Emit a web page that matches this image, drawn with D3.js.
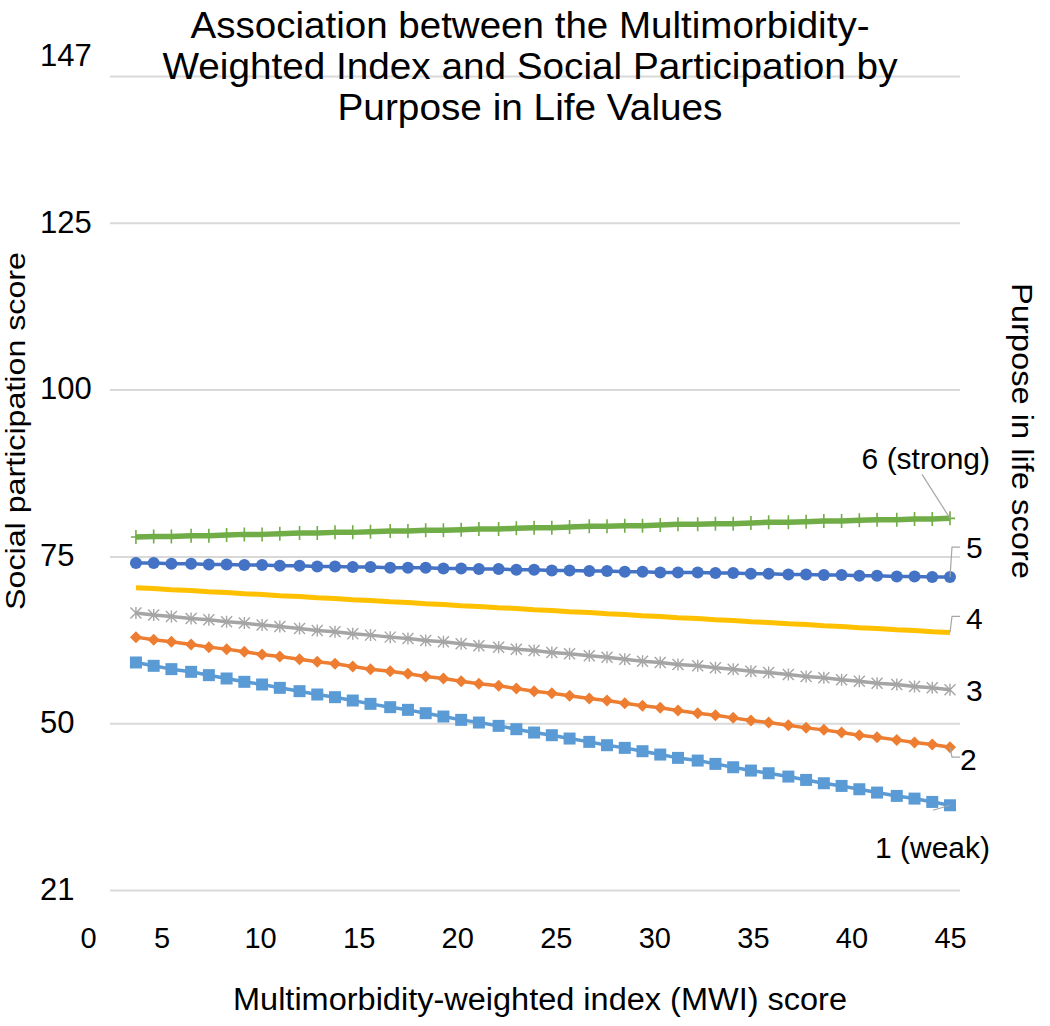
<!DOCTYPE html>
<html lang="en">
<head>
<meta charset="UTF-8">
<title>MWI and Social Participation by Purpose in Life</title>
<script src="https://d3js.org/d3.v7.min.js"></script>
<style>
    body { margin: 0; background: #fff; }
    svg text { font-family: "Liberation Sans", Arial, sans-serif; fill: #000; }
    .grid line { stroke: #d9d9d9; stroke-width: 2; }
    .leader { stroke: #a6a6a6; stroke-width: 1.2; fill: none; }
</style>
</head>
<body>
<svg id="chart" width="1050" height="1026"></svg>
<script>
// MWI score of each plotted point
const mwi = [3.7, 4.6, 5.5, 6.5, 7.4, 8.3, 9.2, 10.1, 11.0, 12.0, 12.9, 13.8, 14.7, 15.6, 16.6, 17.5,
    18.4, 19.3, 20.2, 21.1, 22.1, 23.0, 23.9, 24.8, 25.7, 26.7, 27.6, 28.5, 29.4, 30.3, 31.2, 32.2,
    33.1, 34.0, 34.9, 35.8, 36.8, 37.7, 38.6, 39.5, 40.4, 41.3, 42.3, 43.2, 44.1, 45.0];

// social participation score for each purpose in life value
const pil1 = [59.1, 58.6, 58.1, 57.7, 57.2, 56.7, 56.2, 55.8, 55.3, 54.8, 54.3, 53.9, 53.4, 52.9, 52.4, 52.0,
    51.5, 51.0, 50.5, 50.1, 49.6, 49.1, 48.6, 48.2, 47.7, 47.2, 46.7, 46.3, 45.8, 45.3, 44.8, 44.4,
    43.9, 43.4, 42.9, 42.5, 42.0, 41.5, 41.0, 40.6, 40.1, 39.6, 39.1, 38.7, 38.2, 37.7];
const pil2 = [62.9, 62.5, 62.2, 61.8, 61.4, 61.1, 60.7, 60.3, 60.0, 59.6, 59.2, 58.9, 58.5, 58.1, 57.8, 57.4,
    57.0, 56.7, 56.3, 55.9, 55.6, 55.2, 54.8, 54.5, 54.1, 53.7, 53.4, 53.0, 52.6, 52.3, 51.9, 51.5,
    51.2, 50.8, 50.4, 50.1, 49.7, 49.3, 49.0, 48.6, 48.2, 47.9, 47.5, 47.1, 46.8, 46.4];
const pil3 = [66.5, 66.2, 66.0, 65.7, 65.5, 65.2, 65.0, 64.7, 64.5, 64.2, 63.9, 63.7, 63.4, 63.2, 62.9, 62.7,
    62.4, 62.2, 61.9, 61.6, 61.4, 61.1, 60.9, 60.6, 60.4, 60.1, 59.9, 59.6, 59.3, 59.1, 58.8, 58.6,
    58.3, 58.1, 57.8, 57.6, 57.3, 57.0, 56.8, 56.5, 56.3, 56.0, 55.8, 55.5, 55.3, 55.0];
const pil4 = [70.3, 70.2, 70.0, 69.9, 69.7, 69.6, 69.4, 69.3, 69.1, 69.0, 68.8, 68.7, 68.5, 68.4, 68.2, 68.1,
    67.9, 67.8, 67.6, 67.5, 67.3, 67.2, 67.0, 66.9, 66.7, 66.6, 66.4, 66.3, 66.1, 66.0, 65.8, 65.7,
    65.5, 65.4, 65.2, 65.1, 64.9, 64.8, 64.6, 64.5, 64.3, 64.2, 64.0, 63.9, 63.7, 63.6];
const pil5 = [74.0, 74.0, 73.9, 73.9, 73.8, 73.8, 73.7, 73.7, 73.6, 73.6, 73.5, 73.5, 73.4, 73.4, 73.3, 73.3,
    73.3, 73.2, 73.2, 73.1, 73.1, 73.0, 73.0, 72.9, 72.9, 72.8, 72.8, 72.7, 72.7, 72.6, 72.6, 72.6,
    72.5, 72.5, 72.4, 72.4, 72.3, 72.3, 72.2, 72.2, 72.1, 72.1, 72.0, 72.0, 71.9, 71.9];
const pil6 = [77.9, 78.0, 78.0, 78.1, 78.1, 78.2, 78.3, 78.3, 78.4, 78.5, 78.5, 78.6, 78.6, 78.7, 78.8, 78.8,
    78.9, 78.9, 79.0, 79.1, 79.1, 79.2, 79.3, 79.3, 79.4, 79.5, 79.5, 79.6, 79.6, 79.7, 79.8, 79.8,
    79.9, 79.9, 80.0, 80.1, 80.1, 80.2, 80.3, 80.3, 80.4, 80.5, 80.5, 80.6, 80.6, 80.7];

const seriesNames = ["1 (weak)", "2", "3", "4", "5", "6 (strong)"];
const xTicks = [0, 5, 10, 15, 20, 25, 30, 35, 40, 45];
const yTicks = [25, 50, 75, 100, 125, 147];
const yTickLabels = ["21", "50", "75", "100", "125", "147"];

const colors = ["#5b9bd5", "#ed7d31", "#a5a5a5", "#ffc000", "#4472c4", "#70ad47"];
const markers = ["square", "diamond", "cross", "none", "circle", "plus"];
const widths = [3.5, 3.5, 3.5, 5, 3.5, 5.5];

const svg = d3.select("#chart");

const x = d3.scaleLinear().domain([0, 45]).range([63, 950]);
const y = d3.scaleLinear().domain([25, 147]).range([890, 76]);

// y axis + gridlines
const yAxis = svg.append("g")
    .attr("class", "grid")
    .attr("transform", "translate(110,0)")
    .call(d3.axisLeft(y).tickValues(yTicks).tickSize(-850)
        .tickFormat((d, i) => yTickLabels[i]));
yAxis.select(".domain").remove();
yAxis.selectAll("text")
    .attr("x", -70)
    .attr("text-anchor", "start")
    .attr("font-size", 31)
    .attr("dy", (d) => d === 147 ? "-0.35em" : "0.3em")
    .style("font-family", "Liberation Sans, Arial, sans-serif");

// x axis
const xAxis = svg.append("g")
    .attr("transform", "translate(0,922)")
    .call(d3.axisBottom(x).tickValues(xTicks).tickSize(0));
xAxis.select(".domain").remove();
xAxis.selectAll("text")
    .attr("font-size", 29)
    .attr("y", 0)
    .attr("dy", "0.9em")
    .attr("dx", d => d === 0 ? 25 : 0)
    .style("font-family", "Liberation Sans, Arial, sans-serif");

// title (drawn over the top gridline)
const title = ["Association between the Multimorbidity-",
    "Weighted Index and Social Participation by",
    "Purpose in Life Values"];
const titleLen = [679, 735, 385];
svg.selectAll(".title").data(title).enter().append("text")
    .attr("class", "title")
    .attr("x", 530)
    .attr("y", (d, i) => 38 + i * 41)
    .attr("text-anchor", "middle")
    .attr("font-size", 36)
    .attr("textLength", (d, i) => titleLen[i])
    .attr("lengthAdjust", "spacingAndGlyphs")
    .text(d => d);

// axis titles
svg.append("text")
    .attr("transform", "translate(540,1010)")
    .attr("text-anchor", "middle")
    .attr("font-size", 31)
    .attr("textLength", 614)
    .attr("lengthAdjust", "spacingAndGlyphs")
    .text("Multimorbidity-weighted  index (MWI) score");

svg.append("text")
    .attr("transform", "translate(25,431) rotate(-90)")
    .attr("text-anchor", "middle")
    .attr("font-size", 28)
    .attr("textLength", 358)
    .attr("lengthAdjust", "spacingAndGlyphs")
    .text("Social participation score");

svg.append("text")
    .attr("transform", "translate(1012,431) rotate(90)")
    .attr("text-anchor", "middle")
    .attr("font-size", 30)
    .attr("textLength", 296)
    .attr("lengthAdjust", "spacingAndGlyphs")
    .text("Purpose in life score");

// series
const series = [pil1, pil2, pil3, pil4, pil5, pil6].map((vals, k) => ({
    name: seriesNames[k],
    color: colors[k],
    marker: markers[k],
    width: widths[k],
    points: vals.map((v, i) => ({ x: mwi[i], y: v }))
}));

const line = d3.line().x(d => x(d.x)).y(d => y(d.y));

const g = svg.selectAll(".series").data(series).enter().append("g").attr("class", "series");

g.append("path")
    .attr("d", d => line(d.points))
    .attr("fill", "none")
    .attr("stroke", d => d.color)
    .attr("stroke-width", d => d.width)
    .attr("stroke-linejoin", "round");

g.each(function (s) {
    const sel = d3.select(this).selectAll(".mk").data(s.points).enter();
    if (s.marker === "square") {
        sel.append("rect")
            .attr("x", d => x(d.x) - 6).attr("y", d => y(d.y) - 6)
            .attr("width", 12).attr("height", 12)
            .attr("fill", s.color);
    } else if (s.marker === "diamond") {
        sel.append("path")
            .attr("d", d => `M${x(d.x)},${y(d.y) - 6}l6,6l-6,6l-6,-6z`)
            .attr("fill", s.color);
    } else if (s.marker === "circle") {
        sel.append("circle")
            .attr("cx", d => x(d.x)).attr("cy", d => y(d.y)).attr("r", 6)
            .attr("fill", s.color);
    } else if (s.marker === "cross") {
        sel.append("path")
            .attr("d", d => `M${x(d.x) - 5.5},${y(d.y) - 5.5}l11,11M${x(d.x) - 5.5},${y(d.y) + 5.5}l11,-11M${x(d.x)},${y(d.y) - 6}v12`)
            .attr("stroke", s.color).attr("stroke-width", 1.4);
    } else if (s.marker === "plus") {
        sel.append("path")
            .attr("d", d => `M${x(d.x)},${y(d.y) - 7}v14M${x(d.x) - 5},${y(d.y)}h10`)
            .attr("stroke", s.color).attr("stroke-width", 1.6);
    }
});

// series labels with leader lines, anchored to the last point
const lab = [
    { dx: 40, dy: 42, anchor: "end", leader: [[-17, 5], [0, 0]] },
    { dx: 10, dy: 12, anchor: "start", leader: [[0, 0], [2, 10], [10, 10]] },
    { dx: 16, dy: 0, anchor: "start", leader: null },
    { dx: 16, dy: -14, anchor: "start", leader: [[0, 0], [2, -16], [10, -16]] },
    { dx: 16, dy: -30, anchor: "start", leader: [[0, 0], [2, -30], [10, -30]] },
    { dx: 40, dy: -60, anchor: "end", leader: [[-28, -44], [0, 0]] }
];

series.forEach((s, k) => {
    const last = s.points[s.points.length - 1];
    const px = x(last.x), py = y(last.y);
    const o = lab[k];
    if (o.leader) {
        svg.append("path")
            .attr("class", "leader")
            .attr("d", d3.line()(o.leader.map(p => [px + p[0], py + p[1]])));
    }
    svg.append("text")
        .attr("x", px + o.dx)
        .attr("y", py + o.dy)
        .attr("dy", "0.36em")
        .attr("text-anchor", o.anchor)
        .attr("font-size", 30)
        .text(s.name);
});
</script>
</body>
</html>
